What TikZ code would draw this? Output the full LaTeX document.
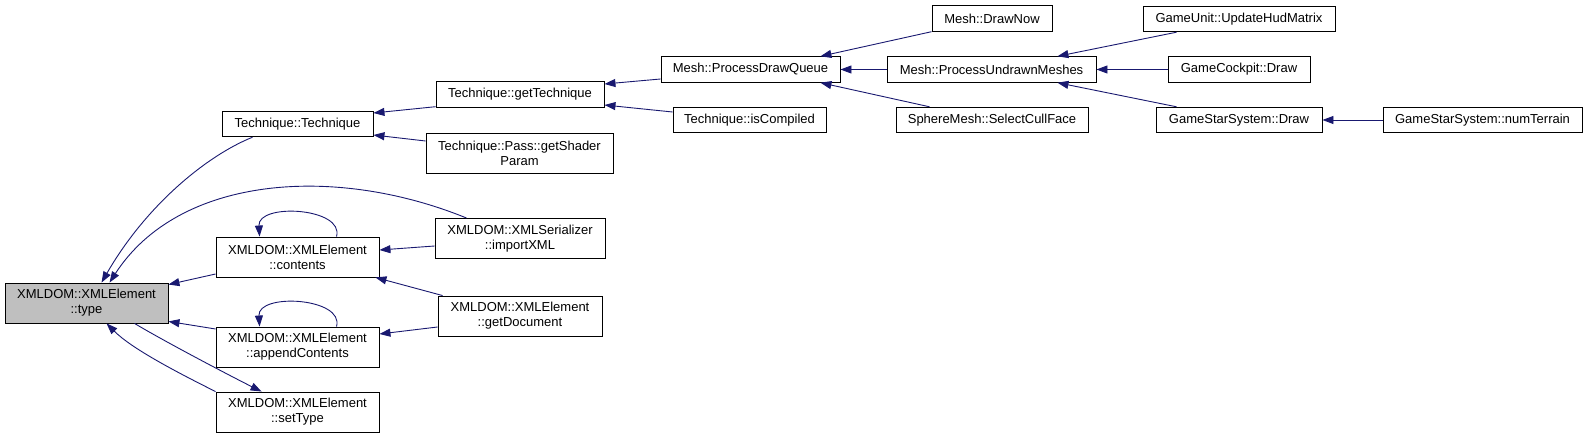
\documentclass[tikz,border=0pt]{standalone}
\usepackage{fontspec}
\setmainfont{Liberation Sans}
\usetikzlibrary{arrows.meta}
\definecolor{edgec}{HTML}{191970}
\definecolor{curfill}{HTML}{BFBFBF}
\tikzset{
  fn/.style={draw=black, line width=0.9pt, fill=white, inner sep=0pt, align=center,
             font=\fontsize{13}{15}\selectfont},
  cur/.style={fn, fill=curfill},
  one/.style={minimum height=25.5pt},
  two/.style={minimum height=40pt},
  e/.style={draw=edgec, line width=0.9pt, -{Triangle[length=11pt,width=8pt]}},
}
\begin{document}
\begin{tikzpicture}[x=1pt,y=-1pt]
\useasboundingbox (0,0) rectangle (1587,438);

% nodes
\node[cur, two, minimum width=163pt] (type) at (86.5,303) {XMLDOM::XMLElement\\::type};
\node[fn, one, minimum width=151pt] (tech) at (297.5,124) {Technique::Technique};
\node[fn, two, minimum width=163pt] (ctn) at (297.5,257) {XMLDOM::XMLElement\\::contents};
\node[fn, two, minimum width=163pt] (app) at (297.5,347) {XMLDOM::XMLElement\\::appendContents};
\node[fn, two, minimum width=163pt] (st) at (297.5,412) {XMLDOM::XMLElement\\::setType};
\node[fn, one, minimum width=168pt] (gt) at (520,94.5) {Technique::getTechnique};
\node[fn, two, minimum width=187pt] (psp) at (519.5,153) {Technique::Pass::getShader\\Param};
\node[fn, two, minimum width=170pt] (imp) at (520,238.5) {XMLDOM::XMLSerializer\\::importXML};
\node[fn, two, minimum width=164pt] (gd) at (520,316) {XMLDOM::XMLElement\\::getDocument};
\node[fn, one, minimum width=179pt] (pdq) at (750.5,69.5) {Mesh::ProcessDrawQueue};
\node[fn, one, minimum width=153pt] (isc) at (749.5,120) {Technique::isCompiled};
\node[fn, one, minimum width=120pt] (dn) at (992,18.5) {Mesh::DrawNow};
\node[fn, one, minimum width=209pt] (pum) at (991.5,69.5) {Mesh::ProcessUndrawnMeshes};
\node[fn, one, minimum width=192pt] (scf) at (992,120) {SphereMesh::SelectCullFace};
\node[fn, one, minimum width=192pt] (uhm) at (1239,19) {GameUnit::UpdateHudMatrix};
\node[fn, one, minimum width=142pt] (gc) at (1239,69.5) {GameCockpit::Draw};
\node[fn, one, minimum width=166pt] (gss) at (1239,120) {GameStarSystem::Draw};
\node[fn, one, minimum width=199pt] (nt) at (1482.5,120) {GameStarSystem::numTerrain};

% edges into type
\draw[e] ([xshift=31pt]tech.south west) .. controls +(-45,18) and +(45,-78) .. ([xshift=97pt]type.north west);
\draw[e] ([xshift=32pt]imp.north west) .. controls +(-130,-53) and +(70,-108) .. ([xshift=105pt]type.north west);
\draw[e] ([yshift=-17pt]ctn.west) -- ([yshift=-2pt]type.north east);
\draw[e] ([yshift=18pt]app.west) -- ([yshift=2pt]type.south east);
\draw[e] (st.north west) .. controls +(-40,-20) and +(25,25) .. ([xshift=102pt]type.south west);
\draw[e] ([xshift=130pt]type.south west) .. controls +(30,18) and +(-30,-15) .. ([xshift=46pt]st.north west);

% self loops
\draw[e] ([xshift=121pt]ctn.north west) .. controls +(8,-29) and +(-2,-34) .. ([xshift=44pt]ctn.north west);
\draw[e] ([xshift=121pt]app.north west) .. controls +(8,-29) and +(-2,-34) .. ([xshift=44pt]app.north west);

% edges into contents / appendContents
\draw[e] ([yshift=-7.5pt]imp.west) -- ([yshift=7pt]ctn.east);
\draw[e] ([xshift=5pt]gd.north west) -- ([xshift=-4pt]ctn.south east);
\draw[e] ([yshift=-11pt]gd.west) -- ([yshift=13pt]app.east);

% edges into Technique
\draw[e] ([yshift=1pt]gt.south west) -- ([yshift=11pt]tech.east);
\draw[e] ([yshift=12pt]psp.west) -- ([yshift=-11pt]tech.east);

% edges into getTechnique
\draw[e] ([yshift=-9.5pt]pdq.west) -- ([yshift=10.5pt]gt.east);
\draw[e] ([yshift=8pt]isc.west) -- ([yshift=-10.5pt]gt.east);

% edges into ProcessDrawQueue
\draw[e] (dn.south west) -- ([xshift=-20pt]pdq.north east);
\draw[e] (pum.west) -- (pdq.east);
\draw[e] ([xshift=34pt]scf.north west) -- ([xshift=-20pt]pdq.south east);

% edges into ProcessUndrawnMeshes
\draw[e] ([xshift=34pt]uhm.south west) -- ([xshift=-39pt]pum.north east);
\draw[e] (gc.west) -- (pum.east);
\draw[e] ([xshift=21pt]gss.north west) -- ([xshift=-39pt]pum.south east);

% numTerrain
\draw[e] (nt.west) -- (gss.east);
\end{tikzpicture}
\end{document}
